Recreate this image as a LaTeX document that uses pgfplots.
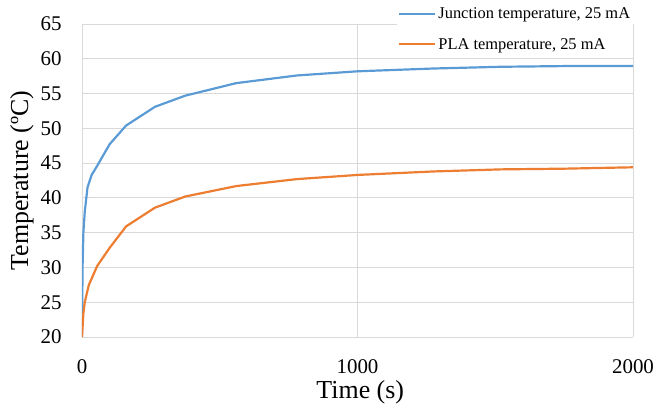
\documentclass[border=0pt]{standalone}
\usepackage{pgfplots}
\pgfplotsset{compat=1.18}
\usepackage{fontspec}
\setmainfont{Liberation Serif}
\newfontfamily\tickfont{Liberation Serif}
\definecolor{exblue}{HTML}{5B9BD5}
\definecolor{exorange}{HTML}{ED7D31}
\definecolor{exgrid}{HTML}{D9D9D9}
\begin{document}
\begin{tikzpicture}
\path (-82bp,-70bp) rectangle (576bp,337bp);
\begin{axis}[
  name=ax, at={(0,0)}, anchor=south west,
  scale only axis, width=551bp, height=313bp,
  xmin=0, xmax=2000, ymin=20, ymax=65,
  xtick={0,1000,2000}, ytick={20,25,30,35,40,45,50,55,60,65},
  xticklabels={0,1000,2000},
  yticklabels={20,25,30,35,40,45,50,55,60,65},
  axis line style={draw=none},
  major tick length=0pt,
  grid=major,
  grid style={exgrid, line width=0.9pt},
  tick label style={font=\tickfont\fontsize{21}{25}\selectfont},
  xticklabel style={yshift=-19bp},
  yticklabel style={xshift=-17bp},
  xlabel={Time (s)}, ylabel={Temperature (ºC)},
  label style={font=\rmfamily\fontsize{26}{30}\selectfont},
  xlabel style={at={(axis description cs:0.505,-0.175)}, anchor=center},
  ylabel style={at={(axis description cs:-0.109,0.5)}, anchor=center},
  legend style={at={(rel axis cs:0.5717,1.062)}, anchor=north west, draw=none, fill=white,
    font=\rmfamily\fontsize{16.5}{19}\selectfont, inner sep=1bp, row sep=14bp,
    /tikz/every odd column/.append style={inner xsep=0pt},
    },
  legend cell align=left,
  legend image code/.code={\draw[#1] (0bp,0bp) -- (36bp,0bp);},
]
\addplot[exblue, line width=2.2pt] coordinates {
(0,20) (2,30) (5,35) (10,38) (20,41.5) (35,43.3) (55,44.6) (100,47.7) (160,50.4)
(265,53.1) (375,54.7) (560,56.5) (780,57.6) (1000,58.2) (1275,58.6) (1520,58.85)
(1750,58.95) (2000,58.95)
};
\addlegendentry{Junction temperature, 25 mA}
\addplot[exorange, line width=2.2pt] coordinates {
(0,20) (5,23.4) (10,25) (25,27.5) (55,30.2) (100,32.8) (160,35.9) (265,38.6)
(375,40.2) (560,41.7) (780,42.7) (1000,43.3) (1275,43.8) (1520,44.1) (1750,44.2) (2000,44.4)
};
\addlegendentry{PLA temperature, 25 mA}
\end{axis}
\end{tikzpicture}
\end{document}
